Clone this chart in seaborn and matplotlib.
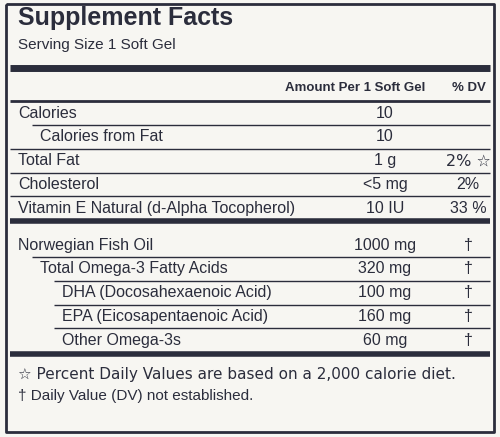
import matplotlib
matplotlib.use("Agg")
import matplotlib.pyplot as plt
import seaborn as sns

sns.set_theme(style="white")
plt.rcParams['font.family'] = ['Liberation Sans', 'DejaVu Sans']
plt.rcParams['lines.solid_capstyle'] = 'butt'

names = ["Calories", "Calories from Fat", "Total Fat", "Cholesterol",
         "Vitamin E Natural (d-Alpha Tocopherol)",
         "Norwegian Fish Oil", "Total Omega-3 Fatty Acids",
         "DHA (Docosahexaenoic Acid)", "EPA (Eicosapentaenoic Acid)",
         "Other Omega-3s"]
amounts = ["10", "10", "1 g", "<5 mg", "10 IU",
           "1000 mg", "320 mg", "100 mg", "160 mg", "60 mg"]
dvs = ["", "", "2% \u2606", "2%", "33 %", "\u2020", "\u2020", "\u2020", "\u2020", "\u2020"]
indent = [0, 1, 0, 0, 0, 0, 1, 2, 2, 2]
footnotes = ["\u2606 Percent Daily Values are based on a 2,000 calorie diet.",
             "\u2020 Daily Value (DV) not established."]

ink = "#2b2d3c"
fig = plt.figure(figsize=(5.0, 4.37), dpi=100, facecolor="#f7f6f2")
ax = fig.add_axes([0, 0, 1, 1])
ax.set_facecolor("#f7f6f2")
ax.set_xlim(0, 500)
ax.set_ylim(437, 0)
ax.axis("off")

# frame
ax.plot([6, 494, 494, 6, 6], [4, 4, 432, 432, 4], color=ink, lw=2)

ax.text(18, 18, "Supplement Facts", fontsize=18, fontweight="bold", color=ink, va="center")
ax.text(18, 45, "Serving Size 1 Soft Gel", fontsize=11, color=ink, va="center")
ax.plot([10, 490], [68, 68], color=ink, lw=5)
ax.text(425, 88, "Amount Per 1 Soft Gel", fontsize=9.5, fontweight="bold", color=ink, ha="right", va="center")
ax.text(486, 88, "% DV", fontsize=9.5, fontweight="bold", color=ink, ha="right", va="center")
ax.plot([10, 490], [101, 101], color=ink, lw=2)

y0, step = 113, 23.8
ys = []
y = y0
for i in range(len(names)):
    if i == 5:
        y += 13
    ys.append(y)
    y += step

for i, (n, a, d) in enumerate(zip(names, amounts, dvs)):
    yy = ys[i]
    ax.text(18 + 22 * indent[i], yy, n, fontsize=11.5, color=ink, va="center")
    ax.text(385, yy, a, fontsize=11.5, color=ink, va="center", ha="center")
    ax.text(468, yy, d, fontsize=11.5, color=ink, va="center", ha="center",
            family=['DejaVu Sans'] if "\u2606" in d else None)
    if i + 1 < len(names) and i != 4:
        x0 = 10 + 22 * indent[i + 1]
        ax.plot([x0, 490], [yy + step / 2, yy + step / 2], color=ink, lw=1)

ax.plot([10, 490], [ys[4] + 13, ys[4] + 13], color=ink, lw=4)
ax.plot([10, 490], [ys[-1] + 14, ys[-1] + 14], color=ink, lw=4)

for k, f in enumerate(footnotes):
    ax.text(18, ys[-1] + 34 + 22 * k, f, fontsize=11, color=ink, va="center",
            family=['DejaVu Sans', 'Liberation Sans'] if k == 0 else None)

fig.savefig("out.png", dpi=100, facecolor=fig.get_facecolor())
